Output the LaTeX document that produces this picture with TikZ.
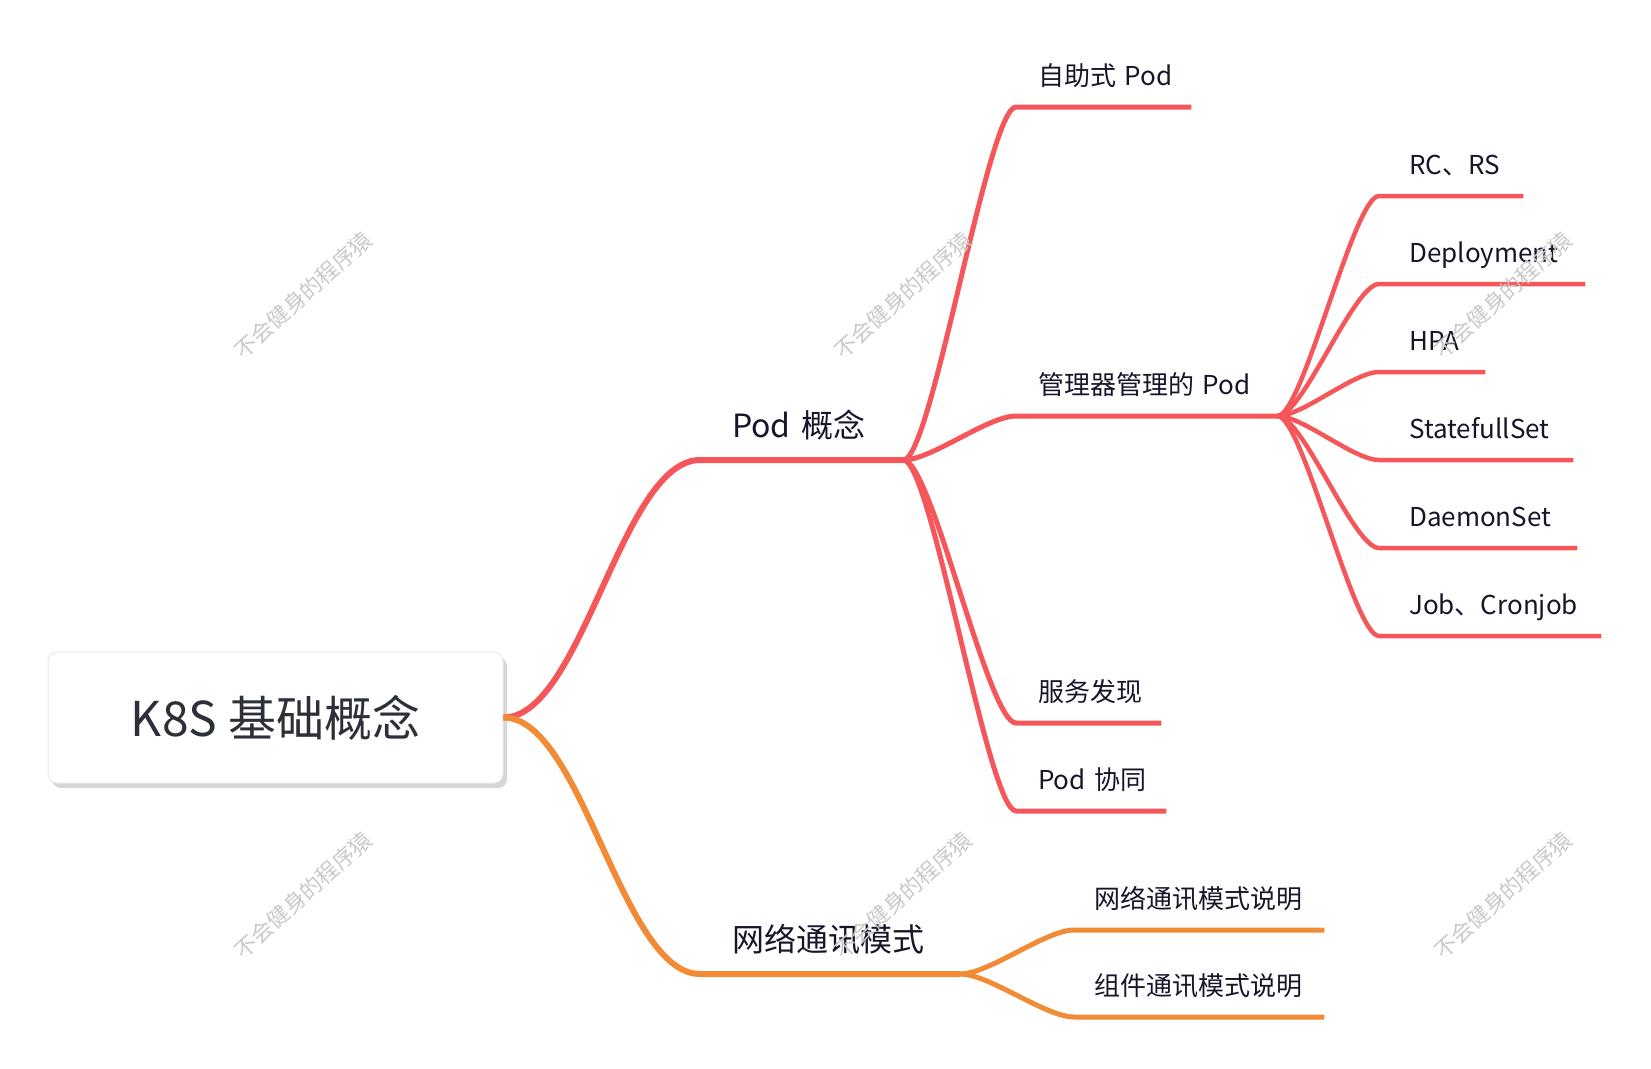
\documentclass[tikz,border=0pt]{standalone}
\usepackage{fontspec}
\setmainfont{Noto Sans CJK SC}
\usepackage{xcolor}
\usetikzlibrary{positioning, calc, shadows}
\definecolor{podred}{HTML}{F5565A}
\definecolor{netorange}{HTML}{F18B36}
\definecolor{ink}{HTML}{16162A}
\definecolor{rootink}{HTML}{2C3038}
\definecolor{wmgray}{HTML}{C9C9C9}
\tikzset{
  rootbox/.style={rectangle, draw=black!9, line width=1pt, fill=white,
                  rounded corners=9pt, minimum width=455pt, minimum height=131pt,
                  text=rootink, font=\fontsize{48}{58}\selectfont,
                  drop shadow={shadow xshift=4pt, shadow yshift=-5pt,
                               fill=black!16, opacity=1}},
  topic/.style={anchor=south west, align=left, text=ink, text depth=0pt,
                inner ysep=22pt, inner xsep=32pt, font=\fontsize{32}{38}\selectfont},
  subtopic/.style={anchor=south west, align=left, text=ink, text depth=0pt,
                   inner ysep=21pt, inner xsep=22pt, font=\fontsize{26}{31}\selectfont},
  leaf/.style={subtopic, inner xsep=30pt},
  watermark/.style={text=wmgray, rotate=42, font=\fontsize{22}{26}\selectfont},
  podline/.style={draw=podred, line width=5pt},
  netline/.style={draw=netorange, line width=5pt},
  twig/.default=0.25,
  twig/.style={to path={let \p1=(\tikztostart), \p2=(\tikztotarget) in
    .. controls ({\x1+#1*(\x2-\x1)},\y1) and ({\x2-#1*(\x2-\x1)},\y2) .. (\tikztotarget)}},
}
\begin{document}
\begin{tikzpicture}[x=1pt, y=-1pt]
  \useasboundingbox (0,0) rectangle (1651,1068);

  \node[rootbox] (root) at (275.5,717.5) {K8S 基础概念};

  % first level
  \node[topic, text width=139pt] (pod) at (700,460) {Pod~概念};
  \node[topic, text width=196pt] (net) at (700,974) {网络通讯模式};

  % pod branch
  \node[subtopic, text width=131pt] (self) at (1016,107) {自助式~Pod};
  \node[subtopic, text width=217pt] (ctrl) at (1016,416) {管理器管理的~Pod};
  \node[subtopic, text width=101pt] (svc)  at (1016,723) {服务发现};
  \node[subtopic, text width=106pt] (coop) at (1016,811) {Pod~协同};

  \node[leaf, text width=84pt] (rcrs) at (1379,196) {RC、RS};
  \node[leaf, text width=146pt, below=88pt of rcrs.south west, anchor=south west] (deploy) {Deployment};
  \node[leaf, text width=46pt, below=88pt of deploy.south west, anchor=south west] (hpa) {HPA};
  \node[leaf, text width=134pt, below=88pt of hpa.south west, anchor=south west] (sts) {StatefullSet};
  \node[leaf, text width=138pt, below=88pt of sts.south west, anchor=south west] (ds) {DaemonSet};
  \node[leaf, text width=162pt, below=88pt of ds.south west, anchor=south west] (job) {Job、Cronjob};

  % network branch
  \node[subtopic, inner xsep=20pt, text width=210pt] (netdoc) at (1074,930) {网络通讯模式说明};
  \node[subtopic, inner xsep=20pt, text width=210pt,
        below=87pt of netdoc.south west, anchor=south west] (compdoc) {组件通讯模式说明};

  \draw[podline, line width=6pt] (root.east) to[twig=0.4] (pod.south west) -- (pod.south east);
  \draw[netline, line width=6pt] (root.east) to[twig=0.4] (net.south west) -- (net.south east);
  \foreach \kid in {self, ctrl, svc, coop}
    \draw[podline] (pod.south east) to[twig] (\kid.south west) -- (\kid.south east);
  \foreach \kid in {rcrs, deploy, hpa, sts, ds, job}
    \draw[podline, line width=4.5pt] (ctrl.south east) to[twig] (\kid.south west) -- (\kid.south east);
  \foreach \kid in {netdoc, compdoc}
    \draw[netline] (net.south east) to[twig] (\kid.south west) -- (\kid.south east);

  % watermarks
  \foreach \col in {0,1,2}
    \foreach \row in {0,1}
      \node[watermark] (wm-\col-\row) at ({303+600*\col},{295+600*\row}) {不会健身的程序猿};

\end{tikzpicture}
\end{document}
